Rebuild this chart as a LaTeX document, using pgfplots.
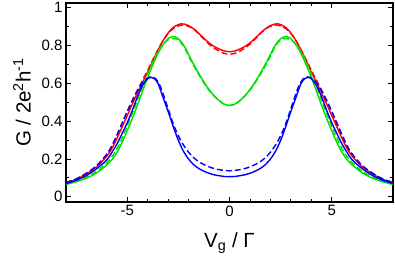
\documentclass[border=0pt]{standalone}
\usepackage{fontspec}
\setmainfont{Liberation Sans}
\usepackage{pgfplots}
\pgfplotsset{compat=1.18}
\definecolor{cr}{RGB}{255,0,0}
\definecolor{cg}{RGB}{0,225,0}
\definecolor{cb}{RGB}{0,0,255}
\begin{document}
\begin{tikzpicture}
\begin{axis}[name=ax, scale only axis, width=327pt, height=199pt,
  xmin=-8, xmax=8, ymin=-0.028, ymax=1.025,
  xtick={-5,0,5}, minor x tick num=4,
  ytick={0,0.2,0.4,0.6,0.8,1}, minor y tick num=1,
  tick align=inside, xtick pos=both, ytick pos=both,
  major tick length=5pt, minor tick length=3pt,
  axis line style={line width=1.1pt},
  every tick/.style={black, line width=0.8pt},
  tick label style={font=\fontsize{15}{15}\selectfont},
  /pgf/number format/assume math mode=true,
  xlabel={V\textsubscript{g} / Γ}, ylabel={G / 2e\textsuperscript{2}h\textsuperscript{-1}},
  label style={font=\fontsize{20.5}{20.5}\selectfont},
  xlabel style={at={(axis description cs:0.5,-0.206)}, anchor=center},
  ylabel style={at={(axis description cs:-0.1346,0.5)}, anchor=center},
  every axis plot/.append style={line width=1.4pt, smooth},
  dsh/.style={dash pattern=on 6pt off 3pt}]
% red solid
\addplot[cr] coordinates {(-8,0.073) (-7.5,0.092) (-7,0.12) (-6.5,0.158) (-6,0.215) (-5.75,0.256) (-5.5,0.31) (-5.25,0.37) (-5,0.43) (-4.75,0.492) (-4.5,0.55) (-4.25,0.605) (-4,0.66) (-3.75,0.72) (-3.5,0.775) (-3.25,0.826) (-3,0.867) (-2.75,0.896) (-2.5,0.911) (-2.35,0.915) (-2.2,0.913) (-2,0.905) (-1.75,0.888) (-1.5,0.864) (-1.25,0.838) (-1,0.814) (-0.75,0.795) (-0.5,0.781) (-0.25,0.771) (0,0.767)
(0.25,0.771) (0.5,0.781) (0.75,0.795) (1,0.814) (1.25,0.838) (1.5,0.864) (1.75,0.888) (2,0.905) (2.2,0.913) (2.35,0.915) (2.5,0.911) (2.75,0.896) (3,0.867) (3.25,0.826) (3.5,0.775) (3.75,0.72) (4,0.66) (4.25,0.605) (4.5,0.55) (4.75,0.492) (5,0.43) (5.25,0.37) (5.5,0.31) (5.75,0.256) (6,0.215) (6.5,0.158) (7,0.12) (7.5,0.092) (8,0.073)};
% red dashed
\addplot[cr, dsh] coordinates {(-8,0.075) (-7.5,0.094) (-7,0.124) (-6.5,0.164) (-6,0.225) (-5.75,0.27) (-5.5,0.328) (-5.25,0.39) (-5,0.45) (-4.75,0.51) (-4.5,0.565) (-4.25,0.618) (-4,0.67) (-3.75,0.725) (-3.5,0.778) (-3.25,0.826) (-3,0.864) (-2.75,0.89) (-2.5,0.904) (-2.3,0.908) (-2.1,0.905) (-1.9,0.896) (-1.7,0.882) (-1.5,0.862) (-1.25,0.834) (-1,0.807) (-0.75,0.786) (-0.5,0.77) (-0.25,0.758) (0,0.754)
(0.25,0.758) (0.5,0.77) (0.75,0.786) (1,0.807) (1.25,0.834) (1.5,0.862) (1.7,0.882) (1.9,0.896) (2.1,0.905) (2.3,0.908) (2.5,0.904) (2.75,0.89) (3,0.864) (3.25,0.826) (3.5,0.778) (3.75,0.725) (4,0.67) (4.25,0.618) (4.5,0.565) (4.75,0.51) (5,0.45) (5.25,0.39) (5.5,0.328) (5.75,0.27) (6,0.225) (6.5,0.164) (7,0.124) (7.5,0.094) (8,0.075)};
% green solid
\addplot[cg] coordinates {(-8,0.065) (-7.5,0.079) (-7,0.098) (-6.5,0.126) (-6,0.168) (-5.75,0.197) (-5.5,0.235) (-5.25,0.288) (-5,0.35) (-4.75,0.415) (-4.5,0.485) (-4.25,0.56) (-4,0.632) (-3.75,0.698) (-3.5,0.757) (-3.25,0.804) (-3,0.836) (-2.8,0.847) (-2.6,0.843) (-2.4,0.825) (-2.2,0.795) (-2,0.752) (-1.75,0.70) (-1.5,0.652) (-1.25,0.607) (-1,0.567) (-0.75,0.534) (-0.5,0.508) (-0.25,0.489) (0,0.483)
(0.25,0.489) (0.5,0.508) (0.75,0.534) (1,0.567) (1.25,0.607) (1.5,0.652) (1.75,0.70) (2,0.752) (2.2,0.795) (2.4,0.825) (2.6,0.843) (2.8,0.847) (3,0.836) (3.25,0.804) (3.5,0.757) (3.75,0.698) (4,0.632) (4.25,0.56) (4.5,0.485) (4.75,0.415) (5,0.35) (5.25,0.288) (5.5,0.235) (5.75,0.197) (6,0.168) (6.5,0.126) (7,0.098) (7.5,0.079) (8,0.065)};
% green dashed
\addplot[cg, dsh] coordinates {(-8,0.067) (-7.5,0.082) (-7,0.103) (-6.5,0.134) (-6,0.18) (-5.75,0.212) (-5.5,0.255) (-5.25,0.31) (-5,0.375) (-4.75,0.442) (-4.5,0.512) (-4.25,0.585) (-4,0.652) (-3.75,0.715) (-3.5,0.768) (-3.25,0.807) (-3,0.83) (-2.75,0.837) (-2.6,0.834) (-2.4,0.819) (-2.2,0.787) (-2,0.743) (-1.75,0.692) (-1.5,0.645) (-1.25,0.602) (-1,0.563) (-0.75,0.532) (-0.5,0.507) (-0.25,0.489) (0,0.483)
(0.25,0.489) (0.5,0.507) (0.75,0.532) (1,0.563) (1.25,0.602) (1.5,0.645) (1.75,0.692) (2,0.743) (2.2,0.787) (2.4,0.819) (2.6,0.834) (2.75,0.837) (3,0.83) (3.25,0.807) (3.5,0.768) (3.75,0.715) (4,0.652) (4.25,0.585) (4.5,0.512) (4.75,0.442) (5,0.375) (5.25,0.31) (5.5,0.255) (5.75,0.212) (6,0.18) (6.5,0.134) (7,0.103) (7.5,0.082) (8,0.067)};
% blue solid
\addplot[cb] coordinates {(-8,0.069) (-7.5,0.087) (-7,0.112) (-6.5,0.148) (-6,0.195) (-5.75,0.235) (-5.5,0.28) (-5.25,0.335) (-5,0.392) (-4.75,0.458) (-4.5,0.53) (-4.25,0.59) (-4,0.625) (-3.85,0.632) (-3.7,0.626) (-3.5,0.6) (-3.25,0.525) (-3,0.45) (-2.75,0.37) (-2.5,0.298) (-2.25,0.24) (-2,0.199) (-1.75,0.169) (-1.5,0.149) (-1.25,0.135) (-1,0.124) (-0.75,0.116) (-0.5,0.111) (-0.25,0.107) (0,0.106)
(0.25,0.107) (0.5,0.111) (0.75,0.116) (1,0.124) (1.25,0.135) (1.5,0.149) (1.75,0.169) (2,0.199) (2.25,0.24) (2.5,0.298) (2.75,0.37) (3,0.45) (3.25,0.525) (3.5,0.6) (3.7,0.626) (3.85,0.632) (4,0.625) (4.25,0.59) (4.5,0.53) (4.75,0.458) (5,0.392) (5.25,0.335) (5.5,0.28) (5.75,0.235) (6,0.195) (6.5,0.148) (7,0.112) (7.5,0.087) (8,0.069)};
% blue dashed
\addplot[cb, dsh] coordinates {(-8,0.075) (-7.5,0.094) (-7,0.124) (-6.5,0.164) (-6,0.225) (-5.75,0.27) (-5.5,0.328) (-5.25,0.39) (-5,0.452) (-4.75,0.51) (-4.5,0.562) (-4.25,0.604) (-4,0.628) (-3.8,0.634) (-3.6,0.623) (-3.4,0.588) (-3.25,0.545) (-3,0.465) (-2.75,0.385) (-2.5,0.322) (-2.25,0.273) (-2,0.235) (-1.75,0.206) (-1.5,0.185) (-1.25,0.17) (-1,0.158) (-0.75,0.149) (-0.5,0.143) (-0.25,0.139) (0,0.137)
(0.25,0.139) (0.5,0.143) (0.75,0.149) (1,0.158) (1.25,0.17) (1.5,0.185) (1.75,0.206) (2,0.235) (2.25,0.273) (2.5,0.322) (2.75,0.385) (3,0.465) (3.25,0.545) (3.4,0.588) (3.6,0.623) (3.8,0.634) (4,0.628) (4.25,0.604) (4.5,0.562) (4.75,0.51) (5,0.452) (5.25,0.39) (5.5,0.328) (5.75,0.27) (6,0.225) (6.5,0.164) (7,0.124) (7.5,0.094) (8,0.075)};
\end{axis}
\pgfresetboundingbox
\path ([xshift=-66pt,yshift=-60pt]ax.south west) rectangle ([xshift=2pt,yshift=3pt]ax.north east);
\end{tikzpicture}
\end{document}
